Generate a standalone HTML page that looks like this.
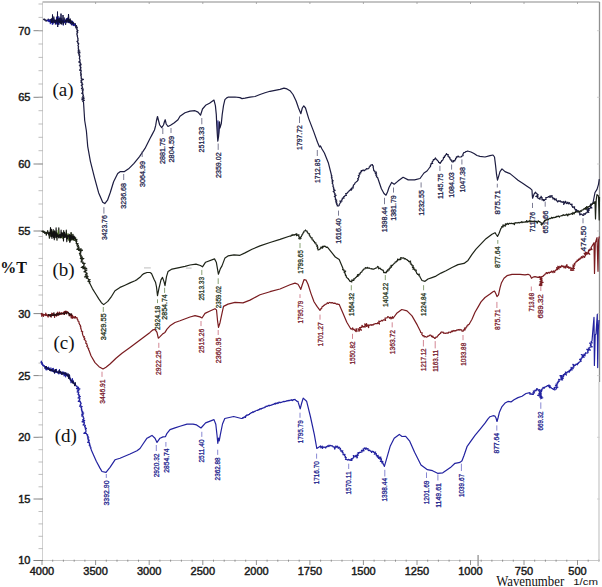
<!DOCTYPE html>
<html><head><meta charset="utf-8"><style>
html,body{margin:0;padding:0;background:#fff;}
body{width:602px;height:587px;overflow:hidden;}
svg{display:block;}
.tl{font-family:"Liberation Sans",sans-serif;font-size:11px;fill:#1a1a1a;stroke:#1a1a1a;stroke-width:0.45px;}
.pt{font-family:"Liberation Serif",serif;font-size:16px;font-weight:bold;fill:#111;}
.pl{font-family:"Liberation Serif",serif;font-size:19px;fill:#111;}
.wn{font-family:"Liberation Serif",serif;font-size:14.4px;fill:#111;}
.cm{font-family:"Liberation Sans",sans-serif;font-size:9.4px;fill:#111;}
.lb text{font-family:"Liberation Sans",sans-serif;font-size:7.6px;stroke-width:0.3px;}
</style></head><body>
<svg width="602" height="587" viewBox="0 0 602 587">
<rect width="602" height="587" fill="#fff"/>
<line x1="42.5" y1="2.0" x2="599.5" y2="2.0" stroke="#b0b0b0" stroke-width="1.3"/>
<line x1="599.5" y1="2.0" x2="599.5" y2="382" stroke="#909090" stroke-width="1.3"/>
<line x1="599.0" y1="382" x2="599.0" y2="560.5" stroke="#c0c0c0" stroke-width="1.1"/>
<line x1="42.5" y1="2.0" x2="42.5" y2="560.5" stroke="#d0d0d0" stroke-width="1"/>
<line x1="33.5" y1="560.5" x2="599.5" y2="560.5" stroke="#c8c8c8" stroke-width="1"/>
<line x1="42" y1="560.0" x2="42" y2="565.0" stroke="#888" stroke-width="0.9"/>
<line x1="52.7" y1="559.7" x2="52.7" y2="561.7" stroke="#888" stroke-width="0.9"/>
<line x1="63.4" y1="559.7" x2="63.4" y2="561.7" stroke="#888" stroke-width="0.9"/>
<line x1="74.2" y1="559.7" x2="74.2" y2="561.7" stroke="#888" stroke-width="0.9"/>
<line x1="84.9" y1="559.7" x2="84.9" y2="561.7" stroke="#888" stroke-width="0.9"/>
<line x1="95.6" y1="560.0" x2="95.6" y2="565.0" stroke="#888" stroke-width="0.9"/>
<line x1="106.3" y1="559.7" x2="106.3" y2="561.7" stroke="#888" stroke-width="0.9"/>
<line x1="117" y1="559.7" x2="117" y2="561.7" stroke="#888" stroke-width="0.9"/>
<line x1="127.8" y1="559.7" x2="127.8" y2="561.7" stroke="#888" stroke-width="0.9"/>
<line x1="138.5" y1="559.7" x2="138.5" y2="561.7" stroke="#888" stroke-width="0.9"/>
<line x1="149.2" y1="560.0" x2="149.2" y2="565.0" stroke="#888" stroke-width="0.9"/>
<line x1="159.9" y1="559.7" x2="159.9" y2="561.7" stroke="#888" stroke-width="0.9"/>
<line x1="170.6" y1="559.7" x2="170.6" y2="561.7" stroke="#888" stroke-width="0.9"/>
<line x1="181.4" y1="559.7" x2="181.4" y2="561.7" stroke="#888" stroke-width="0.9"/>
<line x1="192.1" y1="559.7" x2="192.1" y2="561.7" stroke="#888" stroke-width="0.9"/>
<line x1="202.8" y1="560.0" x2="202.8" y2="565.0" stroke="#888" stroke-width="0.9"/>
<line x1="213.5" y1="559.7" x2="213.5" y2="561.7" stroke="#888" stroke-width="0.9"/>
<line x1="224.2" y1="559.7" x2="224.2" y2="561.7" stroke="#888" stroke-width="0.9"/>
<line x1="235" y1="559.7" x2="235" y2="561.7" stroke="#888" stroke-width="0.9"/>
<line x1="245.7" y1="559.7" x2="245.7" y2="561.7" stroke="#888" stroke-width="0.9"/>
<line x1="256.4" y1="560.0" x2="256.4" y2="565.0" stroke="#888" stroke-width="0.9"/>
<line x1="267.1" y1="559.7" x2="267.1" y2="561.7" stroke="#888" stroke-width="0.9"/>
<line x1="277.8" y1="559.7" x2="277.8" y2="561.7" stroke="#888" stroke-width="0.9"/>
<line x1="288.5" y1="559.7" x2="288.5" y2="561.7" stroke="#888" stroke-width="0.9"/>
<line x1="299.2" y1="559.7" x2="299.2" y2="561.7" stroke="#888" stroke-width="0.9"/>
<line x1="309.9" y1="560.0" x2="309.9" y2="565.0" stroke="#888" stroke-width="0.9"/>
<line x1="320.6" y1="559.7" x2="320.6" y2="561.7" stroke="#888" stroke-width="0.9"/>
<line x1="331.3" y1="559.7" x2="331.3" y2="561.7" stroke="#888" stroke-width="0.9"/>
<line x1="342" y1="559.7" x2="342" y2="561.7" stroke="#888" stroke-width="0.9"/>
<line x1="352.7" y1="559.7" x2="352.7" y2="561.7" stroke="#888" stroke-width="0.9"/>
<line x1="363.4" y1="560.0" x2="363.4" y2="565.0" stroke="#888" stroke-width="0.9"/>
<line x1="374.1" y1="559.7" x2="374.1" y2="561.7" stroke="#888" stroke-width="0.9"/>
<line x1="384.8" y1="559.7" x2="384.8" y2="561.7" stroke="#888" stroke-width="0.9"/>
<line x1="395.5" y1="559.7" x2="395.5" y2="561.7" stroke="#888" stroke-width="0.9"/>
<line x1="406.2" y1="559.7" x2="406.2" y2="561.7" stroke="#888" stroke-width="0.9"/>
<line x1="417" y1="560.0" x2="417" y2="565.0" stroke="#888" stroke-width="0.9"/>
<line x1="427.7" y1="559.7" x2="427.7" y2="561.7" stroke="#888" stroke-width="0.9"/>
<line x1="438.4" y1="559.7" x2="438.4" y2="561.7" stroke="#888" stroke-width="0.9"/>
<line x1="449.1" y1="559.7" x2="449.1" y2="561.7" stroke="#888" stroke-width="0.9"/>
<line x1="459.8" y1="559.7" x2="459.8" y2="561.7" stroke="#888" stroke-width="0.9"/>
<line x1="470.5" y1="560.0" x2="470.5" y2="565.0" stroke="#888" stroke-width="0.9"/>
<line x1="481.2" y1="559.7" x2="481.2" y2="561.7" stroke="#888" stroke-width="0.9"/>
<line x1="491.9" y1="559.7" x2="491.9" y2="561.7" stroke="#888" stroke-width="0.9"/>
<line x1="502.6" y1="559.7" x2="502.6" y2="561.7" stroke="#888" stroke-width="0.9"/>
<line x1="513.3" y1="559.7" x2="513.3" y2="561.7" stroke="#888" stroke-width="0.9"/>
<line x1="524" y1="560.0" x2="524" y2="565.0" stroke="#888" stroke-width="0.9"/>
<line x1="534.7" y1="559.7" x2="534.7" y2="561.7" stroke="#888" stroke-width="0.9"/>
<line x1="545.4" y1="559.7" x2="545.4" y2="561.7" stroke="#888" stroke-width="0.9"/>
<line x1="556.1" y1="559.7" x2="556.1" y2="561.7" stroke="#888" stroke-width="0.9"/>
<line x1="566.8" y1="559.7" x2="566.8" y2="561.7" stroke="#888" stroke-width="0.9"/>
<line x1="577.5" y1="560.0" x2="577.5" y2="565.0" stroke="#888" stroke-width="0.9"/>
<line x1="588.2" y1="559.7" x2="588.2" y2="561.7" stroke="#888" stroke-width="0.9"/>
<line x1="598.9" y1="559.7" x2="598.9" y2="561.7" stroke="#888" stroke-width="0.9"/>
<line x1="95.6" y1="2.0" x2="95.6" y2="4.0" stroke="#999" stroke-width="0.8"/>
<line x1="149.2" y1="2.0" x2="149.2" y2="4.0" stroke="#999" stroke-width="0.8"/>
<line x1="202.8" y1="2.0" x2="202.8" y2="4.0" stroke="#999" stroke-width="0.8"/>
<line x1="256.4" y1="2.0" x2="256.4" y2="4.0" stroke="#999" stroke-width="0.8"/>
<line x1="309.9" y1="2.0" x2="309.9" y2="4.0" stroke="#999" stroke-width="0.8"/>
<line x1="363.4" y1="2.0" x2="363.4" y2="4.0" stroke="#999" stroke-width="0.8"/>
<line x1="417" y1="2.0" x2="417" y2="4.0" stroke="#999" stroke-width="0.8"/>
<line x1="470.5" y1="2.0" x2="470.5" y2="4.0" stroke="#999" stroke-width="0.8"/>
<line x1="524" y1="2.0" x2="524" y2="4.0" stroke="#999" stroke-width="0.8"/>
<line x1="577.5" y1="2.0" x2="577.5" y2="4.0" stroke="#999" stroke-width="0.8"/>
<line x1="33.5" y1="30.7" x2="43.0" y2="30.7" stroke="#777" stroke-width="0.9"/>
<line x1="597.0" y1="30.7" x2="599.5" y2="30.7" stroke="#c8c8c8" stroke-width="0.8"/>
<line x1="33.5" y1="97.3" x2="43.0" y2="97.3" stroke="#777" stroke-width="0.9"/>
<line x1="597.0" y1="97.3" x2="599.5" y2="97.3" stroke="#c8c8c8" stroke-width="0.8"/>
<line x1="33.5" y1="164" x2="43.0" y2="164" stroke="#777" stroke-width="0.9"/>
<line x1="597.0" y1="164" x2="599.5" y2="164" stroke="#c8c8c8" stroke-width="0.8"/>
<line x1="33.5" y1="231" x2="43.0" y2="231" stroke="#777" stroke-width="0.9"/>
<line x1="597.0" y1="231" x2="599.5" y2="231" stroke="#c8c8c8" stroke-width="0.8"/>
<line x1="33.5" y1="313.6" x2="43.0" y2="313.6" stroke="#777" stroke-width="0.9"/>
<line x1="597.0" y1="313.6" x2="599.5" y2="313.6" stroke="#c8c8c8" stroke-width="0.8"/>
<line x1="33.5" y1="375.6" x2="43.0" y2="375.6" stroke="#777" stroke-width="0.9"/>
<line x1="597.0" y1="375.6" x2="599.5" y2="375.6" stroke="#c8c8c8" stroke-width="0.8"/>
<line x1="33.5" y1="437.3" x2="43.0" y2="437.3" stroke="#777" stroke-width="0.9"/>
<line x1="597.0" y1="437.3" x2="599.5" y2="437.3" stroke="#c8c8c8" stroke-width="0.8"/>
<line x1="33.5" y1="499" x2="43.0" y2="499" stroke="#777" stroke-width="0.9"/>
<line x1="597.0" y1="499" x2="599.5" y2="499" stroke="#c8c8c8" stroke-width="0.8"/>
<line x1="33.5" y1="560.5" x2="43.0" y2="560.5" stroke="#777" stroke-width="0.9"/>
<line x1="597.0" y1="560.5" x2="599.5" y2="560.5" stroke="#c8c8c8" stroke-width="0.8"/>
<line x1="38.5" y1="4" x2="43.0" y2="4" stroke="#b8b8b8" stroke-width="0.9"/>
<line x1="38.5" y1="17.4" x2="43.0" y2="17.4" stroke="#b8b8b8" stroke-width="0.9"/>
<line x1="38.5" y1="30.7" x2="43.0" y2="30.7" stroke="#b8b8b8" stroke-width="0.9"/>
<line x1="38.5" y1="44" x2="43.0" y2="44" stroke="#b8b8b8" stroke-width="0.9"/>
<line x1="38.5" y1="57.4" x2="43.0" y2="57.4" stroke="#b8b8b8" stroke-width="0.9"/>
<line x1="38.5" y1="70.7" x2="43.0" y2="70.7" stroke="#b8b8b8" stroke-width="0.9"/>
<line x1="38.5" y1="84" x2="43.0" y2="84" stroke="#b8b8b8" stroke-width="0.9"/>
<line x1="38.5" y1="97.3" x2="43.0" y2="97.3" stroke="#b8b8b8" stroke-width="0.9"/>
<line x1="38.5" y1="110.7" x2="43.0" y2="110.7" stroke="#b8b8b8" stroke-width="0.9"/>
<line x1="38.5" y1="124" x2="43.0" y2="124" stroke="#b8b8b8" stroke-width="0.9"/>
<line x1="38.5" y1="137.3" x2="43.0" y2="137.3" stroke="#b8b8b8" stroke-width="0.9"/>
<line x1="38.5" y1="150.7" x2="43.0" y2="150.7" stroke="#b8b8b8" stroke-width="0.9"/>
<line x1="38.5" y1="164" x2="43.0" y2="164" stroke="#b8b8b8" stroke-width="0.9"/>
<line x1="38.5" y1="177.3" x2="43.0" y2="177.3" stroke="#b8b8b8" stroke-width="0.9"/>
<line x1="38.5" y1="190.7" x2="43.0" y2="190.7" stroke="#b8b8b8" stroke-width="0.9"/>
<line x1="38.5" y1="204" x2="43.0" y2="204" stroke="#b8b8b8" stroke-width="0.9"/>
<line x1="38.5" y1="217.3" x2="43.0" y2="217.3" stroke="#b8b8b8" stroke-width="0.9"/>
<line x1="38.5" y1="230.7" x2="43.0" y2="230.7" stroke="#b8b8b8" stroke-width="0.9"/>
<line x1="38.5" y1="236.5" x2="43.0" y2="236.5" stroke="#b8b8b8" stroke-width="0.9"/>
<line x1="38.5" y1="244" x2="43.0" y2="244" stroke="#b8b8b8" stroke-width="0.9"/>
<line x1="38.5" y1="258.4" x2="43.0" y2="258.4" stroke="#b8b8b8" stroke-width="0.9"/>
<line x1="38.5" y1="265.6" x2="43.0" y2="265.6" stroke="#b8b8b8" stroke-width="0.9"/>
<line x1="38.5" y1="275.3" x2="43.0" y2="275.3" stroke="#b8b8b8" stroke-width="0.9"/>
<line x1="38.5" y1="285.6" x2="43.0" y2="285.6" stroke="#b8b8b8" stroke-width="0.9"/>
<line x1="38.5" y1="295" x2="43.0" y2="295" stroke="#b8b8b8" stroke-width="0.9"/>
<line x1="38.5" y1="305.3" x2="43.0" y2="305.3" stroke="#b8b8b8" stroke-width="0.9"/>
<line x1="38.5" y1="326" x2="43.0" y2="326" stroke="#b8b8b8" stroke-width="0.9"/>
<line x1="38.5" y1="338.3" x2="43.0" y2="338.3" stroke="#b8b8b8" stroke-width="0.9"/>
<line x1="38.5" y1="350.7" x2="43.0" y2="350.7" stroke="#b8b8b8" stroke-width="0.9"/>
<line x1="38.5" y1="363.1" x2="43.0" y2="363.1" stroke="#b8b8b8" stroke-width="0.9"/>
<line x1="38.5" y1="375.5" x2="43.0" y2="375.5" stroke="#b8b8b8" stroke-width="0.9"/>
<line x1="38.5" y1="387.8" x2="43.0" y2="387.8" stroke="#b8b8b8" stroke-width="0.9"/>
<line x1="38.5" y1="400.2" x2="43.0" y2="400.2" stroke="#b8b8b8" stroke-width="0.9"/>
<line x1="38.5" y1="412.6" x2="43.0" y2="412.6" stroke="#b8b8b8" stroke-width="0.9"/>
<line x1="38.5" y1="424.9" x2="43.0" y2="424.9" stroke="#b8b8b8" stroke-width="0.9"/>
<line x1="38.5" y1="437.3" x2="43.0" y2="437.3" stroke="#b8b8b8" stroke-width="0.9"/>
<line x1="38.5" y1="449.7" x2="43.0" y2="449.7" stroke="#b8b8b8" stroke-width="0.9"/>
<line x1="38.5" y1="462" x2="43.0" y2="462" stroke="#b8b8b8" stroke-width="0.9"/>
<line x1="38.5" y1="474.4" x2="43.0" y2="474.4" stroke="#b8b8b8" stroke-width="0.9"/>
<line x1="38.5" y1="486.8" x2="43.0" y2="486.8" stroke="#b8b8b8" stroke-width="0.9"/>
<line x1="38.5" y1="499.2" x2="43.0" y2="499.2" stroke="#b8b8b8" stroke-width="0.9"/>
<line x1="38.5" y1="511.5" x2="43.0" y2="511.5" stroke="#b8b8b8" stroke-width="0.9"/>
<line x1="38.5" y1="523.9" x2="43.0" y2="523.9" stroke="#b8b8b8" stroke-width="0.9"/>
<line x1="38.5" y1="536.3" x2="43.0" y2="536.3" stroke="#b8b8b8" stroke-width="0.9"/>
<line x1="38.5" y1="548.6" x2="43.0" y2="548.6" stroke="#b8b8b8" stroke-width="0.9"/>
<line x1="144" y1="267.9" x2="150.8" y2="267.9" stroke="#c8c8c8" stroke-width="1.2"/>
<line x1="185.8" y1="268.1" x2="191.6" y2="268.1" stroke="#c8c8c8" stroke-width="1.2"/>
<line x1="478.1" y1="555" x2="478.1" y2="566.2" stroke="#9a9a9a" stroke-width="1.4"/>
<text x="30.4" y="34.6" text-anchor="end" class="tl">70</text>
<text x="30.4" y="101.2" text-anchor="end" class="tl">65</text>
<text x="30.4" y="167.9" text-anchor="end" class="tl">60</text>
<text x="30.4" y="234.9" text-anchor="end" class="tl">55</text>
<text x="30.4" y="317.5" text-anchor="end" class="tl">30</text>
<text x="30.4" y="379.5" text-anchor="end" class="tl">25</text>
<text x="30.4" y="441.2" text-anchor="end" class="tl">20</text>
<text x="30.4" y="502.9" text-anchor="end" class="tl">15</text>
<text x="30.4" y="564.4" text-anchor="end" class="tl">10</text>
<text x="42" y="574.6" text-anchor="middle" class="tl">4000</text>
<text x="95.6" y="574.6" text-anchor="middle" class="tl">3500</text>
<text x="149.2" y="574.6" text-anchor="middle" class="tl">3000</text>
<text x="202.8" y="574.6" text-anchor="middle" class="tl">2500</text>
<text x="256.4" y="574.6" text-anchor="middle" class="tl">2000</text>
<text x="309.9" y="574.6" text-anchor="middle" class="tl">1750</text>
<text x="363.4" y="574.6" text-anchor="middle" class="tl">1500</text>
<text x="417" y="574.6" text-anchor="middle" class="tl">1250</text>
<text x="470.5" y="574.6" text-anchor="middle" class="tl">1000</text>
<text x="524" y="574.6" text-anchor="middle" class="tl">750</text>
<text x="577.5" y="574.6" text-anchor="middle" class="tl">500</text>
<text x="0.3" y="273.4" class="pt">%T</text>
<text x="52.4" y="96.3" class="pl">(a)</text>
<text x="52.4" y="276" class="pl">(b)</text>
<text x="53.4" y="348.6" class="pl">(c)</text>
<text x="54.7" y="441.6" class="pl">(d)</text>
<text x="496.2" y="585.5" class="wn" textLength="68" lengthAdjust="spacingAndGlyphs">Wavenumber</text>
<text x="573.2" y="585.2" class="cm" textLength="24.8" lengthAdjust="spacingAndGlyphs">1/cm</text>
<polygon points="216.6,121 218.4,120 220.2,127 218.9,137 217.3,136" fill="#6a6ab0"/>
<polyline points="43.5,20 43.9,19 44.3,20.1 44.6,19.1 45,19.8 45.5,19.9 46.1,21.3 46.7,20.2 47.1,20.4 47.5,20.4 47.9,20.6 48.3,19 48.7,20.9 49.3,20.5 49.7,21.2 50.1,19.5 50.6,21.5 51.2,19.4 51.7,22.1 52.1,20.8 52.6,21.8 53,18.8 53.5,22.7 53.8,16.9 54.5,22.5 54.9,20.3 55.4,24.2 55.9,20.4 56.4,22.4 57,16.8 57.6,23.2 58,19.5 58.4,24.3 58.8,20.2 59.2,22.2 59.7,20.2 60.2,22.5 60.6,21.2 61.2,22.3 61.8,18.6 62.1,21.7 62.4,21.4 62.9,21.8 63.4,21 63.8,22 64.2,17.9 64.6,21.9 65.1,20.8 65.6,24.4 66.1,20.6 66.6,21.5 67.2,18.5 67.7,20.4 68.2,17.5 68.7,20.9 69.2,20 69.8,22.3 70.2,18.8 70.5,22.2 71.1,22.4 71.5,24.8 71.9,21.1 72.3,23.8 72.7,22.2 73.2,24.3 73.7,23.3 74,24.8 74.6,24 74.9,25.7 75.3,23.7 75.8,27.8 76.5,25.6 76.1,26.5 77.4,27.2 76.3,28.1 77.3,28.9 76.7,29.8 78,30.5 76.8,31.4 77.8,32.2 76.8,33.1 77.3,33.9 76.8,34.8 77.5,35.6 77.3,36.4 77.7,37.2 77.6,38.1 78.2,38.8 77.8,39.7 78.1,40.5 77,41.5 78.1,42.2 77.6,43.1 78.8,43.8 78.3,44.7 77.9,45.6 78.6,46.3 78.2,47.2 78.6,48 78.1,48.8 78.9,49.6 78.2,50.5 79.8,51.1 78,52.1 80.1,52.8 78.4,53.7 79.5,54.5 78.9,55.3 80,56.1 79.4,56.9 79.7,57.7 79.3,58.6 80,59.3 79.7,60.2 80.3,61 78.7,61.9 80.3,62.6 80.1,63.5 81.2,64.2 79.4,65.2 80.8,65.8 79.9,66.8 81,67.5 80.4,68.4 81,69.1 79.6,70.1 81.4,70.7 80.9,71.6 80.5,72.4 81.3,73.2 80.5,74 81.4,74.8 80.7,75.7 81.3,76.4 81.1,77.2 81.5,78 81.1,78.8 83.4,79.4 81,80.5 81.7,81.2 80.8,82.1 82.2,82.8 81.8,83.6 82.8,84.3 81.3,85.3 82.4,86 82,86.8 82.6,87.6 81.5,88.5 83.5,89.1 82,90 83.2,90.7 82.5,91.6 82.9,92.4 81.7,93.3 83.3,94 82.8,94.8 83.5,95.6 82.7,96.4 83.9,97.1 81.9,98.1 84.1,98.7 81.8,99.7 84.4,100.3 82.7,101.3 83.5,102 84.7,120.5 86.4,131 87.7,146.3 90.4,161.3 94.5,177.7 98.6,192.7 102.7,202.2 104.8,203.6 107.5,200.2 110.2,192.7 113.6,181.8 117.7,173.6 120.4,171.6 124.5,171.6 128.6,168.8 134,163.4 139.5,156.6 145,148.4 150,138.5 152.2,134.4 154.5,130 155.7,125.4 156.5,120.5 157.5,116.5 158.5,120.5 159.7,125 161.7,127.7 163.5,125 164.5,121.5 165.2,119.7 166.2,124 168,126.5 170.5,125.2 174,123 178,119.7 180,116.3 185,112.7 190,111.1 195,110.7 198,112.1 200.5,115.2 202.5,109 205.6,105.3 209.5,103.3 214,100.1 215.4,105.6 216.3,114.6 216.7,123.6 217.2,132.7 217.8,141.2 218.6,136.3 219.1,128 219.5,121.8 219.9,128.1 221.3,123.6 222.2,114.6 223.5,105.6 224.9,99.7 226.7,97.9 228,97.2 235,97 240,97.6 242,98.6 245,98.2 250,97.2 255,96.5 260,94.5 265,92.8 270,91.3 275,90.3 280,89.3 284,88.2 287,88.9 290,90.7 293,94.5 296,100.7 297.5,105 298.5,108 300.9,113.7 302.3,108 303.8,105.9 305.5,108 308.7,118.6 313.6,131.4 317.5,142.2 319.5,147 320.5,146 322,149 324.4,153 328.3,162.7 331.3,174.5 331.3,175.3 332,176 331.3,177 332.1,177.7 331.7,178.6 332.3,179.3 332,180.2 333.2,180.8 332.1,181.8 332.7,182.5 332.2,183.4 333,184.1 332.9,185 333.2,185.8 332.9,186.6 333.7,187.3 333.4,188.2 334.1,188.9 333.6,189.8 335.1,190.4 333.2,191.5 334.2,192.2 334.4,193 335.1,193.7 334.7,194.6 336.1,195.2 334.3,196.4 335.4,197 335.1,197.9 335.7,198.6 335.3,199.6 336.7,200.1 335.7,201.2 336.8,201.8 335.9,202.8 337,203.4 336.6,204.3 337.4,205 337.2,205.9 338.5,206 339.2,205.4 339.2,204.5 339.7,203.8 340,203 340.9,202.5 339.9,201 341.9,201.1 341.7,200 342.3,199.3 342.3,198.1 344,198.2 343.6,196.8 344.6,196.4 345,195.5 346.4,195.5 345.7,193.6 347,193.5 347.4,192.6 348.1,192 348.9,191.4 349.3,190.4 350.4,190.1 350.6,189 351.5,190 351.9,189.3 351.6,188.2 353.3,188 352.8,186.9 353.5,186.2 353.3,185.2 354,184.6 354.7,184 354.9,183 355.8,182.5 356.3,181.7 357.2,181.3 357.6,180.4 358.4,179.8 357.6,178.7 358.6,178.1 358.6,177.3 359.2,176.6 358.3,175.4 359.5,175 359.9,174.3 359.2,173.2 360.9,172.9 360.6,172 361.6,171.5 361.2,170.5 362.2,170.7 363.1,169.9 364.1,170.8 365,170 365.9,169.6 366.5,168.5 367.7,168.9 368.6,168.4 369.2,167.8 369.3,166.8 370.3,166.5 370.2,165.5 371,165 372.4,164.5 372.4,165.4 373.4,166 373,167.1 373.5,167.8 373.4,168.8 373.7,169.6 373.7,170.6 374.8,171 374.7,172 376.4,172.1 375.3,173.6 376.6,173.9 375.8,175.3 376.8,175.7 376.4,176.9 377.5,177.3 381.4,188.8 384,193.5 386,195.2 387.5,192 389,187.5 391.6,182.4 394.2,184.2 398,181.1 403.1,177.3 408.2,179.9 414.6,179.9 420,178.5 424,173 427,171 430,167 430.6,166.3 430.4,165.3 431.1,164.7 431,163.7 432.7,163.5 432,162.2 432.5,161.5 433.2,160.9 433.3,159.7 434.5,159.6 434.9,158.7 435.5,158 435.7,158.9 436.5,159.3 437,160 437.6,160.7 438.4,161.2 438.6,162.3 439.7,162.6 440,163.5 440.5,162.9 440.8,162 441.6,161.6 441.7,160.6 442.6,160.2 443,159.5 443.4,158.8 443.4,157.7 444.5,157.4 444.3,156.2 445.4,155.9 445.6,155 446.3,154.4 446.5,153.5 446.9,154.4 448.2,154.6 447.9,156.2 449,156.5 449.1,157.4 450,157.8 449.8,158.9 450.8,159.2 450.8,160.2 452,160.4 451.7,161.5 452.5,162 453.4,161.8 453.5,160.7 454.8,161 455,160 455.6,159.4 455.6,158.4 456.5,158 456.4,156.9 457.8,156.9 458,156 458.9,156.8 460,157 461.2,156.9 462,156 463.1,155.7 462.8,154.6 463.2,153.9 463.5,153.1 464,152.5 465,152.4 465.7,151.6 466.7,151.5 467.5,151 471,152 474,153.5 477,155.5 480,156.3 485,157 490,155.6 493,155 494.5,157 495.5,164.9 496.5,174.2 497.5,180.2 498.5,176.9 500,171.6 502,168.9 505,171.6 510,173.6 514,176.9 518,180.2 523,183.5 527,186.2 530,188.2 532,190.2 532.3,195.5 532.6,198.2 534,194.2 535.5,192.2 536,193.1 537,193.5 537.1,194.3 538.2,194.9 535.8,196.5 538,196.6 537.3,197.7 538.5,198.2 540,199.4 540,197.5 541.6,197.7 541,196.2 541.2,197.1 542.2,197.7 542,198.8 542,199.9 543.9,199.5 543.5,200.8 544.4,200.4 545,199.5 546.1,199.3 545.8,197.6 547,197.5 547.9,197.2 548.5,196.5 550.2,197.4 550,195.5 550.3,196.6 552.1,195.6 552,197.3 553,197.5 552.9,198.9 554.4,198.4 554.5,199.8 556.3,198.9 556.1,200.5 557,200.7 557.6,202 558.8,200.6 559.5,201.3 560.4,200.8 561.1,202.1 562,201.7 562.7,202.4 563.9,201.4 563.7,204.5 565.7,201.2 566,203 566.7,203.5 567.9,202.1 568.3,204 569.4,202.6 570,203.8 570.5,204.5 572.1,204.2 571.7,205.9 572.6,206.2 572.7,207.4 574.6,206.8 574.3,208.3 575,208.9 575.2,209.9 576.5,209.6 575.7,211.9 577.8,210.5 577.9,211.7 579,211.7 579.1,212.8 580,213 579.7,214.9 581.7,214 582.2,214.8 583,215.4 583.9,215.1 583.8,213.6 585.4,214.2 585.5,213 586.7,213 587,212 588.8,212.3 586.7,209.7 589.2,210.4 588,208.6 589.6,208.7 590,207.9 591.9,208 590.1,206 591.3,205.7 590.4,204.2 592.2,204.3 592.3,203.4 593,202.8 595,192.5 597,189.4 598.5,184.3 599.3,179.2" fill="none" stroke="#1c1c40" stroke-width="1.2" stroke-linejoin="round"/>
<polyline points="47,21 47.4,20.2 47.9,20.8 48.5,20 48.9,21.6 49.1,20.2 49.8,21.7 50,19.8 50.3,23.7 50.8,20.1 51.2,22.1 51.6,19.5 52.3,24.5 52.7,21 53,23.9 53.6,19.8 54.2,21.2 54.8,21.1 55.4,21.7 56,20.7 56.3,23.5 56.6,17.2 56.9,24.2 57.4,20 57.7,21.3 58,20.3 58.4,21.9 58.8,16.5 59.1,24.1 59.4,19.1 59.8,21.5 60.1,18.3 60.4,22.5 60.8,20.7 61.5,23.8 61.8,21.2 62.4,22 62.9,20.3 63.3,25.1 63.7,20.4 64,22.8 64.3,21.3 64.8,21.9 65.1,20.5 65.6,22.7 66.2,18.9 66.5,21 66.8,18.6 67.3,21.4 67.9,18.6 68.4,22.7 69,19.7 69.6,23 70.2,21.2 70.8,23.7 71.4,22.1 71.9,23.8 72.4,21.2 73,25.4 73.5,23.3 73.9,25.6 74.4,24.1 75,25.1" fill="none" stroke="#1818a0" stroke-width="1.1" stroke-linejoin="round"/>
<polyline points="50,21.5 50.5,21 50.8,21.3 51.4,18.5 51.7,22.8 52.3,20.6 52.6,22.8 53,20.4 53.6,21.4 54.1,19.9 54.6,21.9 55.3,20.2 55.8,22.9 56.3,19.3 56.7,22 57.1,20.2 57.5,23.3 58.1,18.5 58.7,21.7 59.1,20.3 59.4,22.7 60,17.6 60.4,23.6 60.7,20 61.3,24.4 61.6,20.3 62.2,22.3 62.7,20.7 63.2,24.7 63.6,21.5 64.1,22.4 64.6,21.4 65.2,21.6 65.9,19.7 66.1,22 66.4,19.7 67,22.8 67.3,19.4 67.7,20.8 68.2,17.9 68.6,22.3 69.1,19.9 69.4,22.6 70,19.6 70.5,23.3 70.9,20.3 71.4,23.2 71.8,21.9 72.4,23.6 72.9,21.8 73.2,24.5 73.6,22.5" fill="none" stroke="#101030" stroke-width="1.0" stroke-linejoin="round"/>
<polyline points="52.3,21 52.5,14.5 52.8,22 57.3,21 57.5,11.6 57.7,27 58,21 60.8,20.5 61,13.6 61.3,21 62.8,21 63,15 63.3,22 68.2,19 68.5,14 69,20" fill="none" stroke="#101040" stroke-width="1.0" stroke-linejoin="round"/>
<polyline points="41.7,232 42.3,231.1 42.8,231.8 43.3,231 43.7,232.5 44.3,231.5 44.7,233.5 45.1,232.1 45.7,233.3 46,232.4 46.3,235.1 46.6,232.6 47.2,233.1 47.7,230.7 48.4,234.1 48.9,233.2 49.4,238.2 49.9,233.4 50.5,236 51.1,232.4 51.6,234.4 51.9,232 52.3,235.9 52.8,233.1 53.2,236.1 53.6,231.7 54.2,235.1 54.7,233.8 55.1,234.5 55.4,233.7 56,236.9 56.4,232.9 57,240.1 57.3,233 57.6,235.4 57.9,234.7 58.4,235.8 58.8,227.9 59.2,237.2 59.7,234.7 60.1,237.8 60.6,234.7 61.2,237.7 61.5,232.5 61.9,237.4 62.2,233.8 62.6,236.7 63,235.3 63.4,238.5 63.7,230.7 64,237.4 64.6,233.4 65,237.3 65.5,235 66,235.8 66.3,230.2 66.6,236 66.9,234 67.3,238.4 67.8,235.4 68.4,239.7 68.8,235.3 69.1,238.8 69.4,235 69.8,241.9 70.2,236.1 70.6,240.4 71,236.6 71.5,239.8 71.9,237.2 72.4,239.3 73,237.2 73.6,239.2 74,236 74.4,239.4 75,238.3 75.6,239.7 76.1,239.8 75.7,240.9 76.6,241.9 76.9,241.1 72.2,239.5 77,239.4 76.2,240.1 77,241.1 76,241.8 76.5,242.7 76.2,243.7 78.1,243.7 76.9,245.2 78.5,245.3 77.3,246.8 78.9,246.9 79,247.8 76.9,249.3 81.2,248.9 78.6,250.5 82.5,250.2 80.1,251.8 80.8,252.5 79.4,253.8 80.9,254.2 79.9,255.2 81.5,255.7 80.6,256.7 82.5,257.1 80.3,258.4 83.9,258.5 81.2,259.9 82.2,260.5 81,261.9 83.2,262.1 82.6,263.3 85.1,263.4 83.6,264.9 84.1,265.7 81.2,267.4 85.4,267 82.8,268.7 86.8,268.3 84.8,269.8 87,270 84,271.8 86,272 85.9,272.9 87.2,273.4 85.3,274.9 87.5,275.1 84.5,276.9 88.1,276.6 86.3,278.1 88,278.4 88.3,279.3 90.1,279.5 88,281.3 90.2,281.5 89.1,282.8 89.9,283.5 92.4,288.6 95.6,293.7 98.8,298.9 101.4,302.7 103.7,304.6 107.8,301.4 111.6,296.3 115,290.8 120,287.4 125,285.2 130,282.9 135,280.7 137,279.6 140,277.3 142,275.1 144,273.6 147,272.5 150,272.5 151.5,273.6 152.5,275.8 154,279.2 155.5,282.2 156.5,287 157.5,295.7 159,288.2 161,279.9 162.5,277.4 164,281.6 165,285.7 166.5,276.6 168,271.6 172,269.1 178,267.8 185,266.3 190,265 196,264.1 200.4,265.5 202.5,266.8 205.6,262.2 214.5,258.9 216.3,262.2 218.4,274.2 220.4,268.6 222,265.9 225,257.9 228,255.9 234,254.9 240,255.3 245,252.9 252,249.3 260,245.9 270,242.5 280,239.4 290,236 290.9,236.2 291.4,235.1 292.4,235.5 292.9,234.5 294,235.4 294.6,234.5 295.5,234.7 296.1,233.7 297,234 296.5,235.6 298.9,234.7 298.8,236 298.8,236.9 299.8,237.3 298.8,238.6 300,239 301,238.5 300.2,237.2 301.3,236.8 301.5,236 302,235.3 302.1,234.4 302.8,233.9 303,233 303.8,232.4 303.9,231.2 305,230.8 305.5,230 306,230.9 307.1,231.2 307.3,232.3 308,233 308.3,233.7 309.6,233.9 309.2,235.1 309.9,235.6 310,236.5 310.7,237 311,237.8 312.2,237.9 312,239 312.2,240 313.5,240.1 313.5,241.3 314.5,241.6 314.5,242.8 315.9,242.8 316,243.9 316.2,244.8 317.4,245.4 316.8,246.5 317.9,247.1 317.3,248.2 318,249 318,249.9 319.2,249.7 320,248.9 320.8,248.6 320.8,247.2 322.6,248.1 322.2,246.3 323.7,246.9 324,245.9 324.8,246.4 325.7,246.4 326.2,247.4 327.4,247.2 328,247.9 332,252.9 335.3,257 339.2,259.6 343,268.6 342.6,269.7 344,269.9 343.8,270.9 345.7,271 344.2,272.5 345.1,273 345,273.9 345.6,274.5 345.4,275.5 346.4,275.9 346.2,276.9 346.8,277.5 347.4,278.2 348.3,278.6 348.5,279.7 349.5,280 349.7,281.1 350.7,281.4 351.8,281.9 351.9,279.9 353,280.5 353.9,280.3 353.7,278.9 354.8,278.8 355.2,278 355.8,277.5 356.5,277 356.8,276.2 358,276.3 357.5,274.7 359.1,275.1 359.1,274 360.2,274 360.3,273 360.9,272.4 361.8,272 362.1,271 362.9,270.5 363.2,269.6 364,269 365,268.8 365.3,267.6 366.7,268.2 367.3,267.3 367.9,268.3 369.2,267.9 370,268.5 370.9,268.8 371.9,268.7 372.8,269.1 373.7,269.1 374.5,268.7 375.2,268.4 376,268 376.9,267.8 377.6,266.4 378.8,267.3 378.6,268.8 380.3,268.2 380.5,269.2 381.6,269.3 382,270.1 383.2,270.1 383.4,271.2 383.7,272.6 385.2,272.3 386,272.9 386.6,272.2 386.5,271.1 388,271.1 387.6,269.8 389.3,269.9 389,268.6 390.1,268.4 390,267 391.5,267.2 391,265.4 392.5,265.6 392.9,264.7 393.6,264.1 394.1,263.4 395,263 395.2,261.9 396.5,262 396.7,260.9 397.6,260.8 397.6,259.1 399.1,259.9 399.6,259.1 400.9,259.6 400.7,257.7 401.8,257.8 402.7,258.1 403.7,257.8 404.3,258.9 405.4,258.7 406.1,259.4 407,259.6 407.5,260.4 408.5,260.7 408.7,261.7 410.6,261 410,262.9 411.1,263.1 410.9,264.5 412,264.7 412,265.7 413.4,265.9 412.4,267.5 413.9,267.6 412.9,269.2 414.8,269.1 414.7,270.2 416.3,270.2 415.8,271.5 416.5,272.1 416.5,273.1 417.2,273.7 417.6,274.5 419.4,274.1 418.8,275.7 419.8,276 420,277 422,280.5 425,281.3 428,279 432,277.6 436,276.1 441,273.1 446,270.8 452,267.5 458,264.6 464,263.4 468,260.4 472,254.4 476,249.2 481,243.9 486,238.7 492,234.2 495,232.7 496.5,235 497.5,236.4 499,233.5 501,228.2 501.8,227.8 501.7,226.5 503.3,226.9 502.8,225.2 504,225.2 505.3,226.2 505.4,223.8 506.7,224.7 507.2,223.3 508.5,224.4 509.1,223.3 510,223.3 510.9,223.7 511.7,223.2 512.5,223.7 513.4,223.3 514.4,224.5 515,222.6 516,223 516.8,222.7 517.7,222.9 518.5,222.4 519.4,223 520.2,222.3 521.1,222.6 521.8,221.6 522.8,222.6 523.6,222 524.4,222.2 525.2,221.7 526,222.3 526.7,220.6 527.6,222.1 528.4,221.2 529.2,221.8 529.9,220.2 530.8,222 531.6,221.1 532.4,221.6 533.2,221.2 534,221.8 534.8,221.3 535.6,221.6 536.4,221.3 537.2,223.2 538.2,220.8 539.1,221.6 540,221.5 540.1,222.5 541.7,222.8 541,224.2 541.5,225 542.3,224.3 542.8,223.3 543.3,222.7 543.6,221.8 544.8,221.7 544.4,220.3 545.8,220.4 546,219.5 547,220.1 547.5,218.9 548.6,219.7 549.1,218.4 550,218.5 550.9,218.6 551.5,217.3 552.6,218.2 553.2,217.3 554.2,217.7 555,217.2 555.9,217.4 556.5,216.3 557.5,216.7 558.2,216 559.4,217 560,216 560.9,216 561.7,215.6 562.5,215.6 563.2,214.6 564.2,215.5 565,214.9 565.9,215.2 566.6,214.2 567.8,215.8 568.3,214 569.3,214.7 570,214 570.9,214.1 571.5,213.4 572.6,214.4 572.9,212.4 574.2,213.9 574.6,212.3 575.5,212.5 575.9,211.1 577,212 577.9,211.8 578.6,211 579.9,212 580.4,210.7 581.5,211.3 582,209.9 583,210 583.7,209.6 584,208.5 585.4,209.3 585.4,207.6 587.1,208.9 586.6,206.5 588.1,207.4 588.5,206.5 589.4,206.5 590,205.8 595,201.7 595.5,219 596.2,200 597,194.6 598.5,196 599.2,220 599.5,197" fill="none" stroke="#1e2418" stroke-width="1.2" stroke-linejoin="round"/>
<polyline points="50,236.4 50.3,229.8 50.7,234.9 51.2,231.4 51.5,235 51.8,233.7 52.1,234.7 52.6,230.8 53.2,235 53.9,234.3 54.3,235.4 54.6,233.3 54.9,236.1 55.3,231.6 55.8,234.9 56.4,234.4 56.9,235.8 57.4,233.5 57.8,236.3 58.2,229.9 58.6,236.3 59,234.9 59.3,236.2 59.6,234.8 60,235.6 60.4,234.8 60.8,237.3 61.1,234.8 61.5,236.4 61.8,232.6 62.4,238.7 62.9,234.3 63.5,235.9 64,235.5 64.5,235.8 65,233.4 65.6,236.5 66.2,235 66.8,238.5 67.2,235.5 67.5,236.9 68.1,233.3 68.5,240.6 69,234.2 69.6,236.6 70.2,234.9 70.7,237.9 71.1,232.4 71.7,238.5 72.2,233.9 72.6,239.2 73.2,237.1 73.7,239 74.2,238 74.6,240.1 74.9,238.1 75.3,240.3 75.9,237" fill="none" stroke="#5a7a30" stroke-width="0.7" stroke-linejoin="round"/>
<polyline points="48,233.9 48.6,232.9 49.1,235.3 49.6,232.3 50.2,233.9 50.5,227.6 51.1,236.8 51.4,229.3 52,238.4 52.3,233.3 52.6,236 53.2,229.5 53.6,237.7 54,232.6 54.3,239.7 54.6,230.7 55.2,237.8 55.5,233.4 55.8,235.3 56.1,227.7 56.6,237.2 57.2,234 57.6,236.4 58.1,234.9 58.7,238 59.2,234.9 59.6,235.7 60.1,235.2 60.6,237.6 61.1,230 61.4,236.4 62,233.5 62.3,235.9 62.9,232.6 63.5,241 63.7,234.2 64.3,237.2 64.6,232.2 65.2,237.2 65.6,235.4 65.9,236.4 66.2,234.2 66.8,241.6 67.3,235.6 67.8,238.4 68.2,235.7 68.8,236.2 69.2,234.4 69.9,242.3 70.4,235.4 70.7,237.7 71.1,232.5 71.6,238.5 71.9,236.3 72.4,238.4 73,234.3 73.3,239.6 73.8,236.4 74.3,238.7 74.9,237 75.5,239.5 75.8,239.7" fill="none" stroke="#111" stroke-width="1.1" stroke-linejoin="round"/>
<polyline points="41,314.6 41.5,313.4 41.8,316.3 42.1,314.5 42.6,315.2 42.9,313.9 43.5,316.3 43.8,314.6 44.3,315 44.7,314.7 45.3,315.5 45.8,313.1 46.4,315.5 46.8,314.9 47.2,315.8 47.6,314.8 48.1,317.1 48.7,314.5 49.3,315.8 50,315.1 50.4,315.7 50.9,314.9 51.2,317.1 51.8,313.2 52.1,315.7 52.4,313.7 52.7,315.3 53.3,314.3 53.9,315.1 54.2,314.6 54.6,317.4 55,314.5 55.6,315.4 56.1,313.9 56.6,316.1 57,313 57.3,315.2 57.8,312.2 58.3,315.4 58.6,314 59,314.4 59.6,312.2 60.1,314.4 60.5,313.5 61,313.9 61.3,312.7 61.9,314.5 62.3,313.1 62.8,313.2 63.3,312.5 63.7,313.9 64.3,311.5 64.7,314 65,311.3 65.5,313.4 65.8,311.2 66.4,313.7 66.7,311.3 67.3,312.6 67.7,311.8 68.3,313.2 68.9,313.5 69.3,315.9 69.8,313.7 70.4,315.5 70.7,314.9 71.2,317.9 71.7,314.1 72.3,318.5 72.6,315.6 73.1,317.6 73.6,316.9 74,318 74.4,316.8 74.9,318.1 75.5,316.5 75.2,317.8 77,317.5 77.1,318.5 77.3,319.4 78,320 77.8,321 78.9,321.5 79,322.4 79,323.3 79.5,323.9 79.6,324.8 80.5,325.3 80.2,326.3 81,326.9 80.6,327.9 81,328.6 81.2,329.5 81.6,330.3 81.3,331.3 82.8,331.8 82.2,332.9 82.6,333.7 82.6,334.6 83,335.4 83.2,336.2 84.3,336.6 83.7,337.8 84.9,338.2 84.2,339.4 85.1,339.9 85.3,340.7 86.1,341.3 86,342.2 85.7,343.2 86.9,343.7 86.8,344.7 87.4,345.4 86.8,346.5 87.9,347 87.7,348 88.7,348.6 88.5,349.6 89,350.3 91,355.8 95,362.6 99,366.7 103,369 106,367.3 110,364 116,358.2 122,353.2 130,347.4 140,339.9 150,332.4 153,329.8 155,329.3 157,332.4 158.3,338.2 160,336.6 162.5,334.1 165,332.4 167,329.1 170,325.8 175,322.5 180,320.8 190,317 195,315.7 200,316.9 202,318 205,313.4 210,311 215,308.7 216.5,309.9 217.5,320.3 218.5,327.3 220,322.7 221.5,315.7 223.5,306.4 228,304.1 235,302.4 243,302.9 250,300.1 260,294.8 270,291.7 280,289 290,284.8 295,283.1 298,284.3 300,287.8 300.8,289.4 302,285.5 304,279.7 306,280.1 308,284.3 311,293.6 314,301.7 317,306.4 320,310.3 320.7,309.6 320.9,308.6 321.8,308.2 321.9,307.1 322.5,306.4 323.3,306.2 323.8,305.4 324.7,305.1 325.1,304.3 326,304.1 326.8,303.8 327.3,302.7 328.5,303.4 329.1,302.5 330,302.4 330.9,302.9 332,302.6 333,302.9 333.8,303.4 334.7,303.1 335.5,303.4 336.3,304.2 337.4,303.9 338.2,304.4 339.2,304.4 343,313.3 346.8,322.3 350.7,328.7 351.4,329.2 352.7,327.9 352.9,329.8 353.9,329.2 354.5,330 356.1,331.5 356,328.8 357,329 355.9,330.8 358,331 359.5,331 358.2,328.8 361.4,330.2 359.6,327.6 360.9,327.4 361.8,327.5 362,325.4 363.3,327 364,326.5 365.1,327.1 364.8,323.8 366.5,326.4 366.4,323.5 368.7,327.6 368.6,324.9 369.5,325.4 370.3,324.7 371.2,325.4 372,324.5 373,325.2 373.7,324 374.6,324.1 375.4,323.5 376.3,323.6 377.3,323.7 377.7,322.7 379.5,324.1 378.8,321.1 380,321.5 380.8,321.2 381.4,320.4 382.6,320.9 383.1,320 383.9,319.7 385.6,320.4 385,318.2 386,318 387,317.8 387.8,316.6 389,317.2 389.5,318.2 390.7,317.2 391,319 392.6,316.7 392.9,318.5 396.7,313.3 401.8,309.5 407,310.8 412,315.9 417.2,324.9 420.5,331.5 420.6,332.5 422.2,332.8 421.7,334.2 422.3,335 422.9,335.8 424,335.6 424.2,337 425.4,336.5 426.1,337.1 427.1,336.9 427.7,336.1 428.8,336.2 429.4,335.4 430.3,335 431.2,335.6 431.5,336.6 433,336.1 433,337.5 434.2,337.5 434.5,338.4 435.5,338.1 435.9,337 437.1,337.1 437.6,336.1 438.3,335.6 438.5,334.7 439.4,334.4 439.7,333.7 440.7,333.4 440.7,332.4 441.4,331.9 442.1,332.3 443.1,332 443.5,333.2 444.5,333 445.2,333.4 446.1,333.2 447,332.9 448.1,333.3 448.8,332 449.8,332.3 450.8,332.6 451.3,331.1 452.5,331.6 453.1,330.5 454.2,331.1 455,330.6 455.9,330.8 456.6,330 457.5,330.1 458.3,329.6 459.3,330.1 460,329.4 460.6,330 461.8,329.9 462,331.2 463,331.2 463.7,330.6 463.8,329.7 465.2,329.8 464.4,328.1 465.9,328.2 466,327.2 466.8,326.9 466.9,325.8 467.9,325.7 468,324.5 469,324.5 472,319.3 475,312.3 478,307.1 481,301.9 485,297.5 490,294 493,291.7 494.5,291 496,294 497,296.6 498.5,294.9 500,287.9 501.5,282.7 504,278.3 507,275.7 512,274.3 520,274.3 525,274.8 528,274.3 530,275.3 531.5,278.3 533,277.1 535,276.6 538,277.4 540,276.6 539.5,277.6 540.7,278.3 540,279.3 541.3,280 540.6,281 539.9,281.9 543.1,282.4 540.3,283.4 541.7,284.1 539.3,285.1 541,285.8 542,285.1 539.9,284.1 541.4,283.4 541.3,282.6 542.2,281.9 541.5,281 542.2,280.2 541.3,279.2 542,278.4 540,277.3 542,276.6 543.1,276.3 543.5,275.3 544.6,275 545,274 545.9,273.8 546.3,272.5 547.6,273.5 548.2,272.3 549.4,273.1 550,272.2 551,272.3 551.5,271.1 553,272.7 553.3,270.9 554.7,272.4 555,270.5 555.9,270.3 556.2,269.3 557.5,269.6 556.7,267.5 559.1,269 557.8,266.2 559.9,267.4 560,266.2 560.7,267.5 561.8,265.5 562.5,266.6 563.4,266.1 564,267.9 565.1,266 565.7,268.1 566.9,264.5 567.4,267.5 568.4,266.7 569,268.5 570,267.2 570.4,268.1 571.9,268.2 570.5,270.2 572,270.3 573.8,270.1 572.4,268.6 574.4,268.5 572.7,266.8 574.2,266.5 572.9,265 575,265 574.2,263.7 575,263.1 575.8,262.7 576,261.6 577.2,261.5 577.1,260.2 578.7,260.5 578.5,259 580,259.3 580,258 581.1,258.4 581.4,256.7 582.8,257.8 583,255.8 584.6,257.4 585,256 585.6,255.4 584.2,253.3 587.1,254.4 585.4,252.1 589.8,254.3 588,251.9 588.8,251.4 588.5,250.1 590.1,250.3 589.8,249 592,249.6 591,247.8 594,242.7 594.5,273.4 595.3,243 597,237.6 598,271.3 598.6,240 599.2,236.5" fill="none" stroke="#7a1c20" stroke-width="1.2" stroke-linejoin="round"/>
<polyline points="48,315.4 48.6,314.1 48.9,315.9 49.2,315 49.6,315.8 50.1,314 50.4,316.7 51,314.3 51.6,315.5 52,314.6 52.5,316 52.9,314.8 53.5,315.8 53.9,312.5 54.2,315.4 54.6,314 54.9,316 55.3,314.5 55.6,314.8 55.9,314.1 56.5,315.7 56.8,313.6 57.4,315.1 57.8,313.2 58.4,314.4 58.8,313.5 59.1,315.2 59.4,313.7 59.9,314.5 60.3,313.2 60.6,313.8 60.9,313.2 61.4,313.7 61.8,313.3 62.1,313.7 62.4,313.2 62.7,314 63,313 63.5,314.2 64,312.8 64.3,314.9 64.6,312.9 65.2,312.9 65.6,311.6 65.9,312.9 66.2,312.5 66.7,314.2 67.1,312.5 67.5,312.7 68.1,312 68.7,313.6 68.9,312.9 69.3,315.7 69.6,313.5 69.9,314.7 70.4,314 70.7,315 71.1,313.5 71.5,315.8" fill="none" stroke="#2a1010" stroke-width="1.0" stroke-linejoin="round"/>
<polyline points="41,363 41.3,361.1 41.9,364.5 42.4,362.8 42.7,365.4 43.3,365 43.8,366.3 44.4,365.7 45,368.3 45.4,366.7 45.9,369.6 46.3,366.6 46.9,370 47.4,367.5 47.9,369.2 48.4,367.1 48.9,369.4 49.3,368.1 49.7,370.1 50,369.4 50.6,370.4 50.9,367.9 51.4,370.7 51.8,369.8 52,371.1 52.6,368.6 52.8,371.3 53.3,368.3 53.8,371.3 54.2,370.4 54.6,373.1 54.9,371.2 55.3,371.6 55.7,371.2 56,372.3 56.4,369.4 56.7,372.4 57.3,372 57.9,372.9 58.2,372.2 58.5,373.8 58.8,371.3 59.2,372.8 59.5,369.7 60,373.8 60.5,372.8 61,373.4 61.6,373 62.2,373.9 62.7,371.9 63.2,374.1 63.8,372.1 64.1,375.9 64.4,372.9 64.7,375.5 65.2,373.3 65.7,376.9 66,373.9 66.3,375.1 66.8,373.2 67.1,375.5 67.7,374.7 68.1,376.1 68.6,376.5 69,377.8 69.5,375 70.1,379.7 70.6,378.8 71,382.6 71.3,380.1 71.9,382 72.4,378.7 72.8,382.6 73.3,380.8 73.9,383.5 74.3,383.1 74.9,384.3 75.4,384.7 75.9,385.8 76.5,386.1 77,386 76.8,386.9 78.6,387.4 76.5,388.7 79.9,388.9 77.4,390.2 78.9,390.8 77.1,392 78.9,392.5 78.4,393.5 78,394.5 79.6,395 78.7,396 80.3,396.5 78,397.9 80,398.3 79.3,399.3 79.9,400.1 78.3,401.3 80.4,401.7 80.3,402.5 81.3,403.2 80.2,404.3 80.9,405 79.5,406.1 82.2,406.5 80.8,407.6 81.7,408.3 81.3,409.2 82.1,409.9 81.5,410.9 82.8,411.5 82.1,412.4 83.7,413 81.6,414.2 83.3,414.8 81.6,416 83.3,416.5 83.1,417.4 84,418.1 83.5,419 82.6,420 84.7,420.4 82,421.8 84.5,422.1 83.9,423.1 84.5,423.8 83,424.9 85.4,425.3 84.5,426.3 85.3,427 84.9,427.9 86.4,428.4 85.4,429.4 86,430.1 85.8,431 86,431.8 83.9,433.3 86.5,433.3 86.6,434.2 87.7,434.7 87.1,435.7 88.3,436.2 87.5,437.3 88.8,437.7 87.6,438.9 88.8,439.4 88.3,440.4 89.4,440.9 87.7,442.3 89.4,442.6 89.4,443.5 90,444.1 89.2,445.2 90.4,445.7 89.9,446.7 90.9,447.3 90.6,448.2 91.1,448.9 91.2,449.7 96.3,461.2 100,468.1 102,471.5 106,472.3 110,467.3 115,459.8 120,458.2 130,454 137,450.7 140,448.5 143,444 147,438.2 150,436.6 152,435.4 155,438.2 157,442.4 160,438.2 163,436.9 165.5,436.6 167,433.3 170,429.6 175,427.9 180,426.3 187,424.1 193,424.1 196.6,424.9 201,428 205.6,422.9 214,419.6 215.8,424.2 217,435 217.8,443.3 218.6,438 219.2,441 220.4,434.4 222.5,424 224.8,418.5 233.7,416.5 241.4,418.5 242.3,418.4 242.8,417.6 243.8,417.8 244.2,416.8 245.5,417.4 245.5,415.9 246.5,415.9 246.8,414.8 248,415.3 248.5,414.5 249.4,414.4 249.8,413.6 250.7,413.4 251.2,412.7 252.1,412.7 252.6,411.9 253.7,412.3 254.2,411.4 255.1,411.4 255.7,410.8 256.5,410.5 257.2,410.2 258.1,410.3 258.6,409.5 259.6,409.6 260,408.5 261.1,409.2 261.7,408.4 262.5,408.4 263.2,407.8 264,407.8 264.6,407.1 265.5,407.2 266,406.2 266.9,406.3 267.7,406.1 268.3,405.3 269.3,405.9 269.9,405.2 270.8,405.5 271.5,404.8 272.3,404.9 273,404.3 273.8,404.4 274.4,403.5 275.4,404.1 275.9,402.9 277,403.7 277.5,402.7 278.5,403.2 279,402.1 280.1,402.8 280.7,402.3 281.6,402.3 282.3,401.9 283.1,401.8 283.9,401.4 284.7,401.6 285.5,401.3 286.3,401.2 287,400.6 287.9,400.9 288.6,400.4 289.5,400.7 290.2,400 291.1,400.4 291.8,399.7 292.7,400.5 293.4,399.7 294.2,399.7 295,399.4 295.5,400.2 296.3,400.5 296.8,401.3 298,401.3 298.2,402.4 300.2,408.8 301.7,403 303.2,398.1 306.6,401.2 310.4,416.5 314.3,434.4 316.8,448.5 320.6,445.9 320.8,447.8 322.3,446.1 322.4,448.4 323.8,446.8 324.5,447.2 325.8,448 326,446.5 327.1,446.8 327.5,445.8 328.8,446.6 329,445.1 329.7,446 330.8,445.4 331.5,445.9 332.5,445.9 333.1,447 334.1,446.7 334.7,449.2 335.9,445.9 336.6,447.3 337.6,446.2 338.2,448.4 339.2,447.2 339.5,448 340.5,448.4 340,449.6 341,450 340.8,451.1 342.9,450.8 342.1,452.2 343.1,452.6 343,453.6 343.1,454.6 345,454.4 344.4,455.8 345.5,456.2 345.1,457.5 346.3,457.7 345.4,459.3 346.8,459.5 347.5,460.1 348.5,459.3 349.1,460.3 350.1,459.5 350.7,460.5 351.9,460.5 351.3,458.7 352.7,458.9 353,458 353.9,457.5 353.3,455.5 355.8,456.8 355.8,455.4 355.9,456.4 356.8,457.1 357,458 357.5,457.1 355.4,455.8 358.2,455.4 357.1,454.2 358.6,453.6 358,452.5 359,453 359.9,452.1 360.9,452.3 362.1,451.9 361.4,450.3 364,450.8 363,449 363.9,449 364.3,447.9 365.8,449.4 366,447.7 366.2,448.9 368.1,448.6 368,450 368.7,450.6 369.7,450.1 370.2,451.1 371.1,451 371.6,452.5 372.7,451.2 373.5,451.5 373.7,452.5 375.6,452 374.3,454.2 376.4,453.7 376.3,454.9 376.4,456 378.2,455.3 377.4,457.2 379,456.7 378.5,458.4 380.9,457.1 379.9,459.3 381.5,458.8 381.4,460 380.4,461.4 382.9,461.3 381.7,462.8 383.2,463.1 383.1,464.1 383.7,464.8 384,465.6 384.4,466.4 387,457.4 390.3,445.9 394.2,438.2 399.3,434.4 402,436.5 405.7,436.4 409.5,440.8 414.6,452.3 421,465.1 427.4,469.7 432.5,470.7 437.6,473.3 442.8,472.8 450.4,467.6 455,463.3 460,462.4 462,460.7 464,455.5 467,446.7 470,442.4 475,435.4 480,429.3 485,423.2 488,418.8 490,416.7 493,415.7 495,416.2 496,418 497,421.5 498,418 499.5,411.9 502,406.6 505,403.1 508,401.4 511,401.9 514,399.7 518,397.6 522,396.2 526,393.5 530,392.7 529.9,394.1 531.4,393.8 532,394.4 533.4,394.3 532.8,392.8 534.6,393 533.3,391 534.9,391.1 535,390.1 536.2,390.7 536.8,388.5 538,389.5 538.2,390.6 539.9,389.6 540,390.9 539.1,391.8 540.7,392.6 538.9,393.6 540.5,394.4 537.7,395.4 540.5,396.2 539.8,397.1 542.8,397.8 540.5,398.8 541.9,398.1 540.6,397.2 541.9,396.5 540.6,395.6 541.2,394.8 540.2,393.9 541.3,393.2 539.6,392.2 541.6,391.6 541,390.8 542.1,390.1 541.5,389.2 542.8,388.8 543,387.4 544.3,388.1 545,386.9 546,386.6 546.8,386.2 547.4,385.5 549,386.5 549,384.8 548.6,386.1 550.3,385.8 549.4,387.6 551,387.4 551.5,388.2 552.4,388.5 553,389.2 554.9,390 554.1,387.7 555,387.4 553.6,389.3 556,389.2 556.7,388.5 556.1,387.6 557.9,387.2 555.4,385.7 557.2,385.3 555.9,384.1 557.8,383.8 557.2,382.8 558.4,382.2 558,381.3 559.2,381.4 558.7,379.4 560,379.6 562.6,379.9 560.6,377.9 563.2,378.3 560,375.7 562,375.7 563.6,376.7 563.3,374.7 564.4,374.9 564.5,373.6 566.4,375.1 565.4,372.1 566.9,372.9 567.3,372 568,371.6 569.5,372.1 569.1,370.3 570.7,370.8 570.4,369.2 572.2,370 571.1,367.4 573.2,368.6 573,367 574.1,367 572.9,364.4 575,365.5 575.6,365 575.9,364.1 577.6,364.8 577.4,363.3 578.5,363.3 578.7,362.4 579.6,362.2 580,361.4 581.3,361.2 579.6,359.3 581.3,359.3 581.1,358.3 582.2,357.9 582,356.9 584.2,357.1 581.3,354.6 585.2,355.8 584,354.2 585.2,354.4 585.7,352.7 587,353.2 588.1,352.8 587.6,351.6 588.3,350.9 586.8,349.3 590.4,350.1 588.3,348.1 589.7,347.8 590,347 592.2,346.8 590.3,345.2 591.2,344.5 589.6,343.1 592.2,343 591.1,341.7 592,341 593,328.7 594,317.4 594.4,365.5 595.2,335 596,333.8 597.3,314.3 597.7,367.6 598.3,330 599,320" fill="none" stroke="#2222a0" stroke-width="1.2" stroke-linejoin="round"/>
<polyline points="45,368.5 45.6,366.4 46,367.8 46.5,366.3 47,368.8 47.4,367.9 48,369.1 48.5,368.5 49,369.9 49.4,368.7 49.8,370.8 50.4,369.7 50.7,371.2 51,369.2 51.4,370.6 52,369.2 52.3,370.7 52.6,370.1 52.9,371.2 53.4,370.8 53.8,372.2 54.1,371 54.5,373.2 55,369.5 55.3,372.2 55.7,369.1 56.3,371.8 56.8,371 57.1,372.2 57.8,372 58.1,373.2 58.4,372 58.8,372.7 59.1,370.3 59.7,373.2 60.2,371 60.8,373 61.2,371.7 61.8,374.9 62.4,372.6 62.8,374.3 63.1,372.7 63.5,373.5 63.9,372.8 64.3,373.6 64.8,372.6 65.1,374.6 65.6,372.5 66.1,374.9 66.6,373.8 66.9,375.6 67.5,374.9 67.8,376.6 68.1,373.5 68.5,378.7 69.1,374.5 69.5,378.6 69.8,377.5 70.3,380.4 71,379.9 71.5,380.6 71.8,380.9 72.4,383.3 72.9,380.8 73.5,383.3 74,383.2 74.7,386.1 75.2,382.3 75.7,385.6" fill="none" stroke="#101040" stroke-width="1.0" stroke-linejoin="round"/>
<g class="lb">
<text transform="translate(106.5,240) rotate(-90)" textLength="24.7" lengthAdjust="spacingAndGlyphs" fill="#282850" stroke="#282850">3423.76</text>
<line x1="103.9" y1="207.2" x2="103.9" y2="213.6" stroke="#5a5a78" stroke-width="0.8"/>
<text transform="translate(126.3,208.7) rotate(-90)" textLength="25.7" lengthAdjust="spacingAndGlyphs" fill="#282850" stroke="#282850">3236.68</text>
<line x1="123.7" y1="174" x2="123.7" y2="180" stroke="#5a5a78" stroke-width="0.8"/>
<text transform="translate(144.8,187) rotate(-90)" textLength="26" lengthAdjust="spacingAndGlyphs" fill="#282850" stroke="#282850">3064.99</text>
<line x1="142.2" y1="151" x2="142.2" y2="157" stroke="#5a5a78" stroke-width="0.8"/>
<text transform="translate(165.4,164) rotate(-90)" textLength="26" lengthAdjust="spacingAndGlyphs" fill="#282850" stroke="#282850">2881.75</text>
<line x1="162.8" y1="128" x2="162.8" y2="134" stroke="#5a5a78" stroke-width="0.8"/>
<text transform="translate(173.6,162.6) rotate(-90)" textLength="26.8" lengthAdjust="spacingAndGlyphs" fill="#282850" stroke="#282850">2804.59</text>
<line x1="171" y1="128" x2="171" y2="133" stroke="#5a5a78" stroke-width="0.8"/>
<text transform="translate(204.4,152.4) rotate(-90)" textLength="25.6" lengthAdjust="spacingAndGlyphs" fill="#282850" stroke="#282850">2513.33</text>
<line x1="201.8" y1="118" x2="201.8" y2="124.3" stroke="#5a5a78" stroke-width="0.8"/>
<text transform="translate(220.8,178) rotate(-90)" textLength="25.6" lengthAdjust="spacingAndGlyphs" fill="#282850" stroke="#282850">2359.02</text>
<line x1="218.2" y1="143.5" x2="218.2" y2="149.9" stroke="#5a5a78" stroke-width="0.8"/>
<text transform="translate(302.1,149.9) rotate(-90)" textLength="24.6" lengthAdjust="spacingAndGlyphs" fill="#282850" stroke="#282850">1797.72</text>
<line x1="299.5" y1="116.5" x2="299.5" y2="123" stroke="#5a5a78" stroke-width="0.8"/>
<text transform="translate(319.9,183.1) rotate(-90)" textLength="24.3" lengthAdjust="spacingAndGlyphs" fill="#282850" stroke="#282850">1712.85</text>
<line x1="317.3" y1="150" x2="317.3" y2="156" stroke="#5a5a78" stroke-width="0.8"/>
<text transform="translate(341.1,243.8) rotate(-90)" textLength="25.6" lengthAdjust="spacingAndGlyphs" fill="#282850" stroke="#282850">1616.40</text>
<line x1="338.5" y1="210.6" x2="338.5" y2="215.7" stroke="#5a5a78" stroke-width="0.8"/>
<text transform="translate(387.1,232.3) rotate(-90)" textLength="25.6" lengthAdjust="spacingAndGlyphs" fill="#282850" stroke="#282850">1398.44</text>
<line x1="384.5" y1="197.8" x2="384.5" y2="204.2" stroke="#5a5a78" stroke-width="0.8"/>
<text transform="translate(396.1,220.8) rotate(-90)" textLength="25.6" lengthAdjust="spacingAndGlyphs" fill="#282850" stroke="#282850">1381.79</text>
<line x1="393.5" y1="187.5" x2="393.5" y2="192.6" stroke="#5a5a78" stroke-width="0.8"/>
<text transform="translate(423.7,215.7) rotate(-90)" textLength="25.6" lengthAdjust="spacingAndGlyphs" fill="#282850" stroke="#282850">1232.55</text>
<line x1="421.1" y1="182.4" x2="421.1" y2="187.5" stroke="#5a5a78" stroke-width="0.8"/>
<text transform="translate(442.5,199) rotate(-90)" textLength="25.5" lengthAdjust="spacingAndGlyphs" fill="#282850" stroke="#282850">1145.75</text>
<line x1="439.9" y1="165.8" x2="439.9" y2="171" stroke="#5a5a78" stroke-width="0.8"/>
<text transform="translate(454.2,197.8) rotate(-90)" textLength="25.6" lengthAdjust="spacingAndGlyphs" fill="#282850" stroke="#282850">1084.03</text>
<line x1="451.6" y1="164.5" x2="451.6" y2="169.6" stroke="#5a5a78" stroke-width="0.8"/>
<text transform="translate(464.5,192.6) rotate(-90)" textLength="25.6" lengthAdjust="spacingAndGlyphs" fill="#282850" stroke="#282850">1047.38</text>
<line x1="461.9" y1="159.4" x2="461.9" y2="164.5" stroke="#5a5a78" stroke-width="0.8"/>
<text transform="translate(499.9,214.4) rotate(-90)" textLength="24.3" lengthAdjust="spacingAndGlyphs" fill="#282850" stroke="#282850">875.71</text>
<line x1="497.3" y1="183.7" x2="497.3" y2="187.5" stroke="#5a5a78" stroke-width="0.8"/>
<text transform="translate(535.1,232.3) rotate(-90)" textLength="20.5" lengthAdjust="spacingAndGlyphs" fill="#282850" stroke="#282850">711.76</text>
<line x1="532.5" y1="202.9" x2="532.5" y2="208" stroke="#5a5a78" stroke-width="0.8"/>
<text transform="translate(547.8,233.6) rotate(-90)" textLength="23" lengthAdjust="spacingAndGlyphs" fill="#282850" stroke="#282850">651.66</text>
<line x1="545.2" y1="201.6" x2="545.2" y2="206.7" stroke="#5a5a78" stroke-width="0.8"/>
<text transform="translate(585.6,251.5) rotate(-90)" textLength="25.6" lengthAdjust="spacingAndGlyphs" fill="#282850" stroke="#282850">474.50</text>
<line x1="583" y1="218.2" x2="583" y2="223.3" stroke="#5a5a78" stroke-width="0.8"/>
<text transform="translate(105.9,340.2) rotate(-90)" textLength="26.9" lengthAdjust="spacingAndGlyphs" fill="#27351c" stroke="#27351c">3429.55</text>
<line x1="103.3" y1="307" x2="103.3" y2="312" stroke="#6a8a50" stroke-width="0.8"/>
<text transform="translate(160.1,330) rotate(-90)" textLength="24.3" lengthAdjust="spacingAndGlyphs" fill="#27351c" stroke="#27351c">2924.18</text>
<line x1="157.5" y1="299.3" x2="157.5" y2="303.1" stroke="#6a8a50" stroke-width="0.8"/>
<text transform="translate(167.2,319.7) rotate(-90)" textLength="25.5" lengthAdjust="spacingAndGlyphs" fill="#27351c" stroke="#27351c">2854.74</text>
<line x1="164.6" y1="287.8" x2="164.6" y2="292.9" stroke="#6a8a50" stroke-width="0.8"/>
<text transform="translate(204.4,300.6) rotate(-90)" textLength="23.8" lengthAdjust="spacingAndGlyphs" fill="#27351c" stroke="#27351c">2513.33</text>
<line x1="201.8" y1="269.9" x2="201.8" y2="275" stroke="#6a8a50" stroke-width="0.8"/>
<text transform="translate(220.8,308.2) rotate(-90)" textLength="22.2" lengthAdjust="spacingAndGlyphs" fill="#27351c" stroke="#27351c">2359.02</text>
<line x1="218.2" y1="278.3" x2="218.2" y2="284" stroke="#6a8a50" stroke-width="0.8"/>
<text transform="translate(302.6,273.7) rotate(-90)" textLength="23.5" lengthAdjust="spacingAndGlyphs" fill="#27351c" stroke="#27351c">1799.65</text>
<line x1="300" y1="243" x2="300" y2="248.1" stroke="#6a8a50" stroke-width="0.8"/>
<text transform="translate(353.9,315.9) rotate(-90)" textLength="23" lengthAdjust="spacingAndGlyphs" fill="#27351c" stroke="#27351c">1564.32</text>
<line x1="351.3" y1="285.2" x2="351.3" y2="290.3" stroke="#6a8a50" stroke-width="0.8"/>
<text transform="translate(387.9,306.9) rotate(-90)" textLength="24.2" lengthAdjust="spacingAndGlyphs" fill="#27351c" stroke="#27351c">1404.22</text>
<line x1="385.3" y1="275" x2="385.3" y2="280.1" stroke="#6a8a50" stroke-width="0.8"/>
<text transform="translate(426.2,315.9) rotate(-90)" textLength="23" lengthAdjust="spacingAndGlyphs" fill="#27351c" stroke="#27351c">1224.84</text>
<line x1="423.6" y1="285.2" x2="423.6" y2="290.3" stroke="#6a8a50" stroke-width="0.8"/>
<text transform="translate(500.4,268) rotate(-90)" textLength="21.6" lengthAdjust="spacingAndGlyphs" fill="#27351c" stroke="#27351c">877.64</text>
<line x1="497.8" y1="240" x2="497.8" y2="243.8" stroke="#6a8a50" stroke-width="0.8"/>
<text transform="translate(104.6,403.7) rotate(-90)" textLength="24.3" lengthAdjust="spacingAndGlyphs" fill="#7a2230" stroke="#7a2230">3446.91</text>
<line x1="102" y1="371.7" x2="102" y2="376.9" stroke="#c86878" stroke-width="0.8"/>
<text transform="translate(161.4,375) rotate(-90)" textLength="24.6" lengthAdjust="spacingAndGlyphs" fill="#7a2230" stroke="#7a2230">2922.25</text>
<line x1="158.8" y1="342.8" x2="158.8" y2="347.9" stroke="#c86878" stroke-width="0.8"/>
<text transform="translate(203.6,353) rotate(-90)" textLength="24.3" lengthAdjust="spacingAndGlyphs" fill="#7a2230" stroke="#7a2230">2515.26</text>
<line x1="201" y1="321" x2="201" y2="326.1" stroke="#c86878" stroke-width="0.8"/>
<text transform="translate(220.8,363.2) rotate(-90)" textLength="25.6" lengthAdjust="spacingAndGlyphs" fill="#7a2230" stroke="#7a2230">2360.95</text>
<line x1="218.2" y1="330" x2="218.2" y2="335" stroke="#c86878" stroke-width="0.8"/>
<text transform="translate(302.6,323.6) rotate(-90)" textLength="23" lengthAdjust="spacingAndGlyphs" fill="#7a2230" stroke="#7a2230">1795.79</text>
<line x1="300" y1="294.2" x2="300" y2="298" stroke="#c86878" stroke-width="0.8"/>
<text transform="translate(322.6,346.6) rotate(-90)" textLength="24.3" lengthAdjust="spacingAndGlyphs" fill="#7a2230" stroke="#7a2230">1701.27</text>
<line x1="320" y1="314.6" x2="320" y2="319.7" stroke="#c86878" stroke-width="0.8"/>
<text transform="translate(355.1,364.5) rotate(-90)" textLength="23" lengthAdjust="spacingAndGlyphs" fill="#7a2230" stroke="#7a2230">1550.82</text>
<line x1="352.5" y1="333.8" x2="352.5" y2="338.9" stroke="#c86878" stroke-width="0.8"/>
<text transform="translate(394.8,354.2) rotate(-90)" textLength="24.2" lengthAdjust="spacingAndGlyphs" fill="#7a2230" stroke="#7a2230">1363.72</text>
<line x1="392.2" y1="322.3" x2="392.2" y2="327.4" stroke="#c86878" stroke-width="0.8"/>
<text transform="translate(426,371) rotate(-90)" textLength="22.6" lengthAdjust="spacingAndGlyphs" fill="#7a2230" stroke="#7a2230">1217.12</text>
<line x1="423.4" y1="340" x2="423.4" y2="346.5" stroke="#c86878" stroke-width="0.8"/>
<text transform="translate(437.8,371.8) rotate(-90)" textLength="21.9" lengthAdjust="spacingAndGlyphs" fill="#7a2230" stroke="#7a2230">1163.11</text>
<line x1="435.2" y1="341.1" x2="435.2" y2="348.4" stroke="#c86878" stroke-width="0.8"/>
<text transform="translate(465.6,365.8) rotate(-90)" textLength="23" lengthAdjust="spacingAndGlyphs" fill="#7a2230" stroke="#7a2230">1033.88</text>
<line x1="463" y1="335" x2="463" y2="340.2" stroke="#c86878" stroke-width="0.8"/>
<text transform="translate(499.5,330) rotate(-90)" textLength="20.8" lengthAdjust="spacingAndGlyphs" fill="#7a2230" stroke="#7a2230">875.71</text>
<line x1="496.9" y1="301.9" x2="496.9" y2="308" stroke="#c86878" stroke-width="0.8"/>
<text transform="translate(533.9,311.5) rotate(-90)" textLength="18.6" lengthAdjust="spacingAndGlyphs" fill="#7a2230" stroke="#7a2230">713.68</text>
<line x1="531.3" y1="286.5" x2="531.3" y2="291" stroke="#c86878" stroke-width="0.8"/>
<text transform="translate(543.4,318.5) rotate(-90)" textLength="24.3" lengthAdjust="spacingAndGlyphs" fill="#7a2230" stroke="#7a2230">689.32</text>
<line x1="540.8" y1="286.5" x2="540.8" y2="291" stroke="#c86878" stroke-width="0.8"/>
<text transform="translate(108.9,505.6) rotate(-90)" textLength="25.2" lengthAdjust="spacingAndGlyphs" fill="#24248e" stroke="#24248e">3392.90</text>
<line x1="106.3" y1="474" x2="106.3" y2="477.9" stroke="#6a6ac8" stroke-width="0.8"/>
<text transform="translate(158.9,477.3) rotate(-90)" textLength="23.8" lengthAdjust="spacingAndGlyphs" fill="#24248e" stroke="#24248e">2920.32</text>
<line x1="156.3" y1="445" x2="156.3" y2="451" stroke="#6a6ac8" stroke-width="0.8"/>
<text transform="translate(168.5,472.8) rotate(-90)" textLength="24.3" lengthAdjust="spacingAndGlyphs" fill="#24248e" stroke="#24248e">2854.74</text>
<line x1="165.9" y1="442" x2="165.9" y2="446.7" stroke="#6a6ac8" stroke-width="0.8"/>
<text transform="translate(204.4,462.5) rotate(-90)" textLength="23" lengthAdjust="spacingAndGlyphs" fill="#24248e" stroke="#24248e">2511.40</text>
<line x1="201.8" y1="431.8" x2="201.8" y2="436.9" stroke="#6a6ac8" stroke-width="0.8"/>
<text transform="translate(220.3,480.4) rotate(-90)" textLength="23" lengthAdjust="spacingAndGlyphs" fill="#24248e" stroke="#24248e">2362.88</text>
<line x1="217.7" y1="449.7" x2="217.7" y2="454.9" stroke="#6a6ac8" stroke-width="0.8"/>
<text transform="translate(302.6,443.3) rotate(-90)" textLength="23" lengthAdjust="spacingAndGlyphs" fill="#24248e" stroke="#24248e">1795.79</text>
<line x1="300" y1="412.7" x2="300" y2="417.8" stroke="#6a6ac8" stroke-width="0.8"/>
<text transform="translate(319.2,484.3) rotate(-90)" textLength="23.1" lengthAdjust="spacingAndGlyphs" fill="#24248e" stroke="#24248e">1716.70</text>
<line x1="316.6" y1="453.6" x2="316.6" y2="458.7" stroke="#6a6ac8" stroke-width="0.8"/>
<text transform="translate(351.3,494.5) rotate(-90)" textLength="23" lengthAdjust="spacingAndGlyphs" fill="#24248e" stroke="#24248e">1570.11</text>
<line x1="348.7" y1="463.7" x2="348.7" y2="469" stroke="#6a6ac8" stroke-width="0.8"/>
<text transform="translate(387.4,501.5) rotate(-90)" textLength="23.5" lengthAdjust="spacingAndGlyphs" fill="#24248e" stroke="#24248e">1398.44</text>
<line x1="384.8" y1="469.8" x2="384.8" y2="476.5" stroke="#6a6ac8" stroke-width="0.8"/>
<text transform="translate(429.1,504.3) rotate(-90)" textLength="23.8" lengthAdjust="spacingAndGlyphs" fill="#24248e" stroke="#24248e">1201.69</text>
<line x1="426.5" y1="472.4" x2="426.5" y2="478" stroke="#6a6ac8" stroke-width="0.8"/>
<text transform="translate(440.5,507.8) rotate(-90)" textLength="24.8" lengthAdjust="spacingAndGlyphs" fill="#24248e" stroke="#24248e">1149.61</text>
<line x1="437.9" y1="474.4" x2="437.9" y2="480.5" stroke="#6a6ac8" stroke-width="0.8"/>
<text transform="translate(464,497) rotate(-90)" textLength="23" lengthAdjust="spacingAndGlyphs" fill="#24248e" stroke="#24248e">1039.67</text>
<line x1="461.4" y1="463.7" x2="461.4" y2="471" stroke="#6a6ac8" stroke-width="0.8"/>
<text transform="translate(499.4,453.6) rotate(-90)" textLength="20.5" lengthAdjust="spacingAndGlyphs" fill="#24248e" stroke="#24248e">877.64</text>
<line x1="496.8" y1="425.4" x2="496.8" y2="430.6" stroke="#6a6ac8" stroke-width="0.8"/>
<text transform="translate(543.4,430.6) rotate(-90)" textLength="19.2" lengthAdjust="spacingAndGlyphs" fill="#24248e" stroke="#24248e">669.32</text>
<line x1="540.8" y1="402.4" x2="540.8" y2="408.8" stroke="#6a6ac8" stroke-width="0.8"/>
</g>
</svg>
</body></html>
